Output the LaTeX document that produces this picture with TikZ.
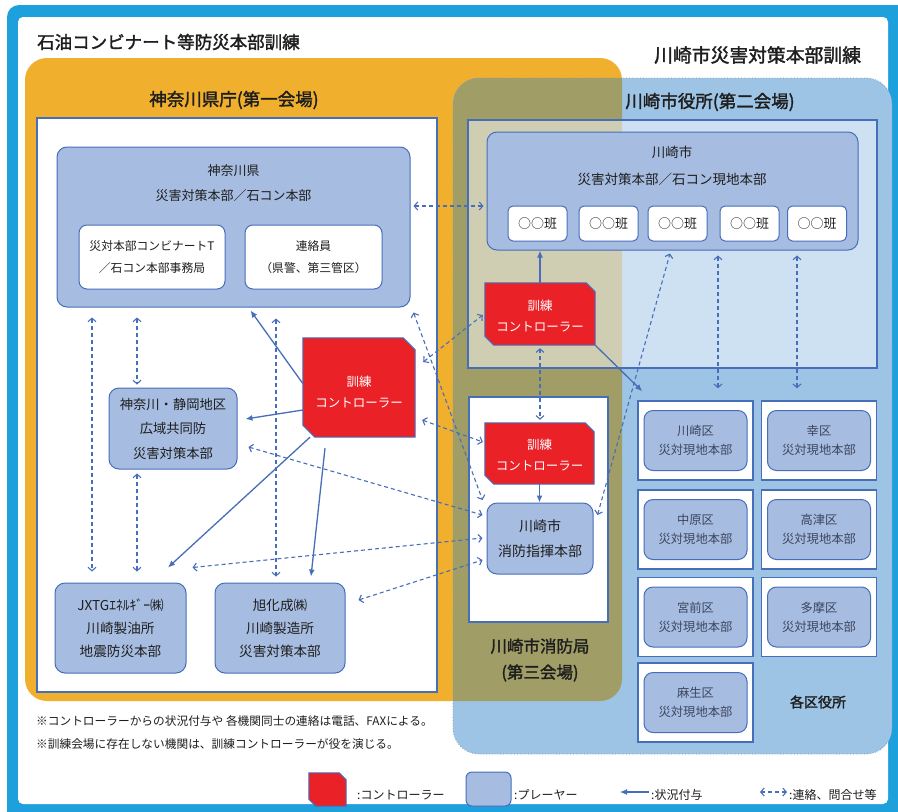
\documentclass[tikz,border=0pt]{standalone}
\usepackage{fontspec}
\setmainfont{Noto Sans CJK JP}
\newfontfamily\jpb{Noto Sans CJK JP}[FakeBold=1.8]
\usetikzlibrary{arrows.meta}
\definecolor{frameblue}{RGB}{30,160,220}
\definecolor{orangeC}{RGB}{240,175,44}
\definecolor{blueReg}{RGB}{157,195,229}
\definecolor{oliveC}{RGB}{160,158,102}
\definecolor{dotc}{RGB}{130,155,190}
\definecolor{plyr}{RGB}{166,188,224}
\definecolor{bdr}{RGB}{70,110,185}
\definecolor{ctrlred}{RGB}{234,34,40}
\definecolor{txt}{RGB}{30,30,30}
\definecolor{wtxt}{RGB}{60,70,95}
\newcommand\ctrlpath[2]{%
  \filldraw[fill=ctrlred, draw=bdr, line width=1pt] (#1.north west) -- ([xshift=-#2]#1.north east) -- ([yshift=-#2]#1.north east) -- (#1.south east) -- ([xshift=#2]#1.south west) -- ([yshift=#2]#1.south west) -- cycle;}
\begin{document}
\begin{tikzpicture}[x=1pt,y=-1pt,
  player/.style={draw=bdr, fill=plyr, line width=1pt, rounded corners=10pt, inner sep=0pt, align=center, text=txt},
  wbox/.style={draw=bdr, fill=white, line width=1pt, rounded corners=8pt, inner sep=0pt, align=center, text=txt},
  area/.style={draw=bdr, line width=1.3pt, inner sep=0pt},
  lbl/.style={inner sep=0pt, align=center, text=txt},
  cbox/.style={inner sep=0pt, draw=none},
  ctxt/.style={inner sep=0pt, align=center, text=white, font=\fontsize{12.5}{21}\selectfont},
  wardout/.style={draw=bdr, fill=white, line width=1.5pt, minimum width=115pt, minimum height=79pt, inner sep=0pt},
  wardin/.style={player, minimum width=103pt, minimum height=60pt, rounded corners=9pt, text=wtxt, font=\fontsize{12.3}{19}\selectfont},
  sit/.style={draw=bdr, line width=1.3pt, -{Latex[length=7pt,width=6pt]}},
  com/.style={draw=bdr, line width=1.1pt, dash pattern=on 4pt off 3pt, {Straight Barb[length=3.5pt,width=8pt]}-{Straight Barb[length=3.5pt,width=8pt]}},
]
\useasboundingbox (0,0) rectangle (898,812);
\fill[white] (0,0) rectangle (898,812);
% frame
\fill[frameblue, rounded corners=12pt] (7,5) rectangle (912,826);
\fill[white, rounded corners=5pt] (18,17) rectangle (888,804);
% regions
\fill[orangeC, rounded corners=22pt] (25,58) rectangle (622,701);
\fill[blueReg, rounded corners=26pt] (453,78) rectangle (892,754);
\begin{scope}
  \clip[rounded corners=26pt] (453,78) rectangle (892,754);
  \fill[oliveC, rounded corners=22pt] (25,58) rectangle (622,701);
\end{scope}
\draw[dotc, line width=0.8pt, dotted, rounded corners=26pt] (453,78) rectangle (892,754);
% titles
\node[lbl, anchor=west, font=\jpb\fontsize{17.5}{20}\selectfont] (t1) at (37,42) {石油コンビナート等防災本部訓練};
\node[lbl, anchor=west, font=\jpb\fontsize{18.8}{20}\selectfont] (t2) at (654,55) {川崎市災害対策本部訓練};
\node[lbl, font=\jpb\fontsize{17.5}{20}\selectfont] (t3) at (234,100) {神奈川県庁(第一会場)};
\node[lbl, font=\jpb\fontsize{17.5}{20}\selectfont] (t4) at (710,102) {川崎市役所(第二会場)};
% venue boxes
\node[area, fill=white, minimum width=400pt, minimum height=574pt] (kgOff) at (237,405) {};
\node[area, fill=white, fill opacity=0.5, minimum width=409pt, minimum height=248pt] (kwOff) at (672.5,244) {};
\node[area, fill=white, minimum width=139pt, minimum height=225pt] (fireOff) at (538.5,509.5) {};
\node[lbl, font=\jpb\fontsize{16.5}{26}\selectfont] (fireLbl) at (540,660) {川崎市消防局\\(第三会場)};
% Kanagawa players
\node[player, minimum width=353pt, minimum height=160pt] (kgHQ) at (233.5,227) {};
\node[lbl, font=\fontsize{13}{25}\selectfont] (kgHQt) at (233.5,183) {神奈川県\\災害対策本部／石コン本部};
\node[wbox, minimum width=146pt, minimum height=64pt, font=\fontsize{11.8}{22}\selectfont] (kgA) at (152,257) {災対本部コンビナートT\\／石コン本部事務局};
\node[wbox, minimum width=137pt, minimum height=64pt, font=\fontsize{11.8}{22}\selectfont] (kgB) at (313.5,257) {連絡員\\（県警、第三管区）};
\node[player, minimum width=128pt, minimum height=81pt, font=\fontsize{13.3}{24.5}\selectfont] (ksz) at (173,428.5) {神奈川・静岡地区\\広域共同防\\災害対策本部};
\node[player, minimum width=131pt, minimum height=90pt, font=\fontsize{13.6}{23}\selectfont] (jxtg) at (120.5,628) {JXTGｴﾈﾙｷﾞｰ㈱\\川崎製油所\\地震防災本部};
\node[player, minimum width=130pt, minimum height=90pt, font=\fontsize{13.6}{23}\selectfont] (asahi) at (280,628) {旭化成㈱\\川崎製造所\\災害対策本部};
% Kawasaki city HQ
\node[player, minimum width=371pt, minimum height=118pt] (kwHQ) at (672.5,191) {};
\node[lbl, font=\fontsize{13.5}{27}\selectfont] (kwHQt) at (672,166) {川崎市\\災害対策本部／石コン現地本部};
\foreach \n/\x in {han1/537.5, han2/608.5, han3/677.5, han4/749.5, han5/817}{
  \node[wbox, minimum width=59pt, minimum height=35pt, rounded corners=5pt, font=\fontsize{13}{15}\selectfont] (\n) at (\x,223.5) {○○班};
}
% fire HQ
\node[player, minimum width=106pt, minimum height=71pt, font=\fontsize{14}{25}\selectfont] (fireHQ) at (540,538.5) {川崎市\\消防指揮本部};
% controllers
\node[cbox, minimum width=112pt, minimum height=99pt] (ctrlK) at (359,387.5) {};
\ctrlpath{ctrlK}{12pt}
\node[ctxt] (ctrlKt) at (359,392) {訓練\\コントローラー};
\node[cbox, minimum width=110pt, minimum height=62pt] (ctrl1) at (540,314) {};
\ctrlpath{ctrl1}{9pt}
\node[ctxt] (ctrl1t) at (540,316) {訓練\\コントローラー};
\node[cbox, minimum width=109pt, minimum height=61pt] (ctrl3) at (539.5,453.5) {};
\ctrlpath{ctrl3}{9pt}
\node[ctxt] (ctrl3t) at (539.5,455) {訓練\\コントローラー};
% wards
\foreach \n/\x/\y/\t in {w1/695.5/440.5/川崎区, w2/819/440.5/幸区, w3/695.5/529.5/中原区, w4/819/529.5/高津区, w5/695.5/617/宮前区, w6/819/617/多摩区, w7/695.5/702.5/麻生区}{
  \node[wardout] (\n) at (\x,\y) {};
  \node[wardin] (\n-in) at (\x,\y) {\t\\災対現地本部};
}
\node[lbl, font=\jpb\fontsize{14}{16}\selectfont] (kuLbl) at (818,702) {各区役所};
% solid arrows (状況付与)
\draw[sit] ([yshift=4pt]ctrlK.west) -- ([xshift=17pt,yshift=-3pt]kgHQ.south);
\draw[sit] ([yshift=-22.5pt]ctrlK.west) -- ([xshift=8pt,yshift=9.5pt]ksz.east);
\draw[sit] ([xshift=-49pt]ctrlK.south) -- ([xshift=47.5pt,yshift=15pt]jxtg.north);
\draw[sit] ([xshift=-34pt,yshift=-11pt]ctrlK.south) -- ([xshift=31pt,yshift=6pt]asahi.north);
\draw[sit] (ctrl1.north) -- (ctrl1.north |- kwHQ.south);
\draw[sit] (ctrl1.south -| ctrl1.east) -- ([xshift=5pt,yshift=9pt]w1.north west);
\draw[sit] (ctrl3.south) -- (ctrl3.south |- fireHQ.north);
% dashed arrows (連絡)
\draw[com] ([xshift=3pt,yshift=21pt]kgHQ.east) -- ([xshift=-3pt,yshift=-15pt]kwHQ.west);
\draw[com] ([xshift=-141.5pt,yshift=-10pt]kgHQ.south) -- ([xshift=-28.5pt,yshift=11pt]jxtg.north);
\draw[com] ([xshift=-96.5pt,yshift=-10pt]kgHQ.south) -- ([xshift=-36pt,yshift=3pt]ksz.north);
\draw[com] ([xshift=-36pt,yshift=-4pt]ksz.south) -- ([xshift=16.5pt,yshift=11pt]jxtg.north);
\draw[com] ([xshift=42.5pt,yshift=-11pt]kgHQ.south) -- ([xshift=-4pt,yshift=6pt]asahi.north);
\draw[com] ([xshift=3pt,yshift=-5pt]kgHQ.south east) -- ([xshift=-4pt,yshift=38.5pt]fireHQ.west);
\draw[com] ([xshift=8pt,yshift=25.5pt]ctrlK.east) -- ([xshift=-2pt,yshift=-1pt]ctrl1.west);
\draw[com] ([xshift=7pt,yshift=-32.5pt]ctrlK.east) -- ([xshift=-2pt,yshift=11.5pt]ctrl3.west);
\draw[com] ([xshift=11pt,yshift=-18.5pt]ksz.east) -- ([xshift=-4pt,yshift=23.5pt]fireHQ.west);
\draw[com] ([xshift=6pt,yshift=15pt]jxtg.north east) -- ([xshift=-4pt,yshift=0.5pt]fireHQ.west);
\draw[com] ([xshift=13pt,yshift=28pt]asahi.east) -- ([xshift=-4pt,yshift=-21.5pt]fireHQ.west);
\draw[com] ([yshift=-3pt]ctrl1.south) -- ([xshift=0.5pt,yshift=3pt]ctrl3.north);
\draw[com] ([xshift=4pt,yshift=23.5pt]fireHQ.east) -- ([xshift=-2.5pt,yshift=-3pt]kwHQ.south);
\draw[com] ([xshift=45.5pt,yshift=-5pt]kwHQ.south) -- ([xshift=22.5pt,yshift=12pt]w1.north);
\draw[com] ([xshift=124.5pt,yshift=-5pt]kwHQ.south) -- ([xshift=-22pt,yshift=12pt]w2.north);
% notes
\node[lbl, anchor=west, font=\fontsize{11.7}{23}\selectfont, align=left] (notes) at (36,733) {※コントローラーからの状況付与や 各機関同士の連絡は電話、FAXによる。\\※訓練会場に存在しない機関は、訓練コントローラーが役を演じる。};
% legend
\node[cbox, minimum width=37pt, minimum height=33pt] (lgR) at (327.5,789.5) {};
\ctrlpath{lgR}{7pt}
\node[lbl, anchor=west, font=\fontsize{12}{14}\selectfont] (lgRt) at (357,795) {:コントローラー};
\node[player, minimum width=45pt, minimum height=34pt, rounded corners=6pt] (lgB) at (488.5,789) {};
\node[lbl, anchor=west, font=\fontsize{12}{14}\selectfont] (lgBt) at (514,795) {:プレーヤー};
\coordinate (lgA1) at (649,792);
\coordinate (lgA2) at (620,792);
\draw[sit, line width=1.1pt] (lgA1) -- (lgA2);
\node[lbl, anchor=west, font=\fontsize{12}{14}\selectfont] (lgAt) at (651,795) {:状況付与};
\coordinate (lgD1) at (760,792);
\coordinate (lgD2) at (787,792);
\draw[com] (lgD1) -- (lgD2);
\node[lbl, anchor=west, font=\fontsize{12}{14}\selectfont] (lgDt) at (789,795) {:連絡、問合せ等};
\end{tikzpicture}
\end{document}
